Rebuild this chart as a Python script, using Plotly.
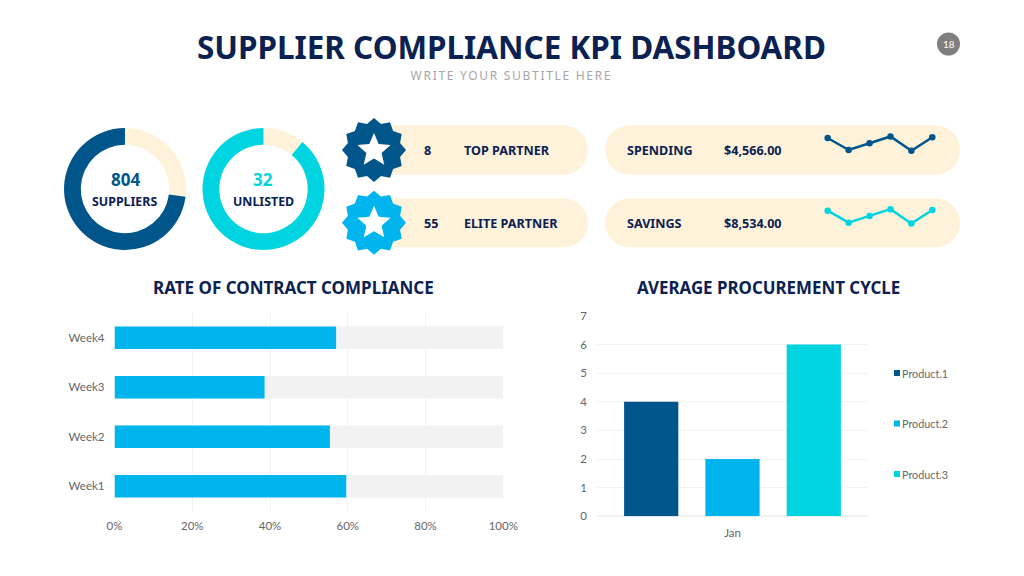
import math
import plotly.graph_objects as go

W, H = 1024, 576

# ---- data ----
weeks = ["Week1", "Week2", "Week3", "Week4"]
compliance = [59.6, 55.4, 38.6, 57.0]
track = [100, 100, 100, 100]
month = ["Jan"]
product_names = ["Product.1", "Product.2", "Product.3"]
product_values = [4, 2, 6]
suppliers_split = [27, 73]
unlisted_split = [11, 89]
spark_x = [0, 1, 2, 3, 4, 5]
spending_trend = [4.1, 2.5, 3.4, 4.3, 2.4, 4.2]
savings_trend = [4.1, 2.5, 3.4, 4.3, 2.4, 4.2]

NAVY, BLUE, CYAN = "#00568A", "#00B5EE", "#00D4E0"
CREAM = "#FEF3DA"
INK = "#0B2151"
GREY = "#666666"
GRID = "#F2F2F2"
product_colors = [NAVY, BLUE, CYAN]


def fx(p):
    return p / W


def fy(p):
    return 1 - p / H


def dom_x(a, b):
    return [fx(a), fx(b)]


def dom_y(top, bottom):
    return [fy(bottom), fy(top)]


fig = go.Figure()

# donuts
for vals, col, (cx, cy) in [
    (suppliers_split, NAVY, (125, 189)),
    (unlisted_split, CYAN, (263.5, 189)),
]:
    r = 61
    fig.add_trace(go.Pie(
        values=vals, sort=False, direction="clockwise", rotation=0, hole=0.725,
        marker=dict(colors=[CREAM, col], line=dict(width=0)),
        textinfo="none", hoverinfo="skip", showlegend=False,
        domain=dict(x=dom_x(cx - r, cx + r), y=dom_y(cy - r, cy + r)),
    ))

# compliance bars
fig.add_trace(go.Bar(y=weeks, x=track, orientation="h", width=0.45, offsetgroup="w",
                     marker=dict(color=GRID, line=dict(width=0)), xaxis="x", yaxis="y", showlegend=False))
fig.add_trace(go.Bar(y=weeks, x=compliance, orientation="h", width=0.45, offsetgroup="w",
                     marker=dict(color=BLUE, line=dict(width=0)), xaxis="x", yaxis="y", showlegend=False))

# procurement bars
for name, val, col in zip(product_names, product_values, product_colors):
    fig.add_trace(go.Bar(x=month, y=[val], name=name, offsetgroup=name,
                         marker=dict(color=col, line=dict(width=0)),
                         xaxis="x2", yaxis="y2", showlegend=False))

# sparklines
for vals, col, xa, ya in [(spending_trend, NAVY, "x3", "y3"), (savings_trend, CYAN, "x4", "y4")]:
    fig.add_trace(go.Scatter(x=spark_x, y=vals, mode="lines+markers", xaxis=xa, yaxis=ya,
                             line=dict(color=col, width=2.5), marker=dict(color=col, size=6.5),
                             cliponaxis=False, showlegend=False, hoverinfo="skip"))

shapes = []


def poly(pts, color):
    d = "M" + "L".join(f"{fx(x):.5f},{fy(y):.5f}" for x, y in pts) + "Z"
    shapes.append(dict(type="path", path=d, xref="paper", yref="paper",
                       fillcolor=color, line=dict(width=0), layer="below"))


def pill(x0, x1, y0, y1, color):
    r = (y1 - y0) / 2
    steps = 16
    pts = []
    for i in range(steps + 1):
        a = -math.pi / 2 + math.pi * i / steps
        pts.append((x1 - r + r * math.cos(a), y0 + r + r * math.sin(a)))
    for i in range(steps + 1):
        a = math.pi / 2 + math.pi * i / steps
        pts.append((x0 + r + r * math.cos(a), y0 + r + r * math.sin(a)))
    poly(pts, color)


def star_poly(cx, cy, n, ro, ri):
    return [(cx + (ro if i % 2 == 0 else ri) * math.sin(math.pi * i / n),
             cy - (ro if i % 2 == 0 else ri) * math.cos(math.pi * i / n)) for i in range(2 * n)]


pill(366, 588, 125.3, 174.7, CREAM)
pill(366, 588, 198.3, 247.3, CREAM)
pill(605, 960, 125.3, 174.7, CREAM)
pill(605, 960, 198.3, 247.3, CREAM)
for cy, col in [(150, NAVY), (222.7, BLUE)]:
    poly(star_poly(374, cy, 12, 32, 27), col)
    poly(star_poly(374, cy + 0.5, 5, 17.5, 8), "#FFFFFF")

# page badge
shapes.append(dict(type="circle", xref="paper", yref="paper", x0=fx(937), x1=fx(960),
                   y0=fy(55.5), y1=fy(32.5), fillcolor="#7F7F7F", line=dict(width=0), layer="below"))

annotations = []


def label(text, x, y, size, color=INK, bold=True, anchor="center", family="Noto Sans"):
    annotations.append(dict(
        text=f"<b>{text}</b>" if bold else text, x=fx(x), y=fy(y), xref="paper", yref="paper",
        xanchor=anchor, yanchor="middle", showarrow=False,
        font=dict(family=family, size=size, color=color)))


label("SUPPLIER COMPLIANCE KPI DASHBOARD", 511.5, 47, 31.4)
label("WRITE YOUR SUBTITLE HERE", 511, 76, 12, color="#A6A6A6", bold=False)
label("18", 948.5, 44, 10, color="#FFFFFF", bold=False, family="Lato")
label("804", 125, 179.5, 17, color=NAVY)
label("SUPPLIERS", 124.5, 201.5, 12.4)
label("32", 263, 179.5, 17, color=CYAN)
label("UNLISTED", 263.5, 201.5, 12.4)
label("8", 422, 150, 12.6, anchor="left")
label("TOP PARTNER", 462, 150, 12.6, anchor="left")
label("55", 422, 223, 12.6, anchor="left")
label("ELITE PARTNER", 462, 223, 12.6, anchor="left")
label("SPENDING", 624.5, 150, 12.6, anchor="left")
label("$4,566.00", 722, 150, 12.6, anchor="left")
label("SAVINGS", 624.5, 223, 12.6, anchor="left")
label("$8,534.00", 722, 223, 12.6, anchor="left")
label("RATE OF CONTRACT COMPLIANCE", 293, 287.5, 17)
label("AVERAGE PROCUREMENT CYCLE", 768.5, 287.5, 16.9)

# legend keys
for i, (name, col) in enumerate(zip(product_names, product_colors)):
    y = 373 + i * 50.5
    shapes.append(dict(type="rect", xref="paper", yref="paper", x0=fx(894), x1=fx(900),
                       y0=fy(y + 3), y1=fy(y - 3), fillcolor=col, line=dict(width=0)))
    label(name, 900, y, 10.8, color=GREY, bold=False, anchor="left", family="Lato")

tick = dict(family="Lato", size=11.5, color=GREY)
hidden = dict(visible=False, fixedrange=True)

fig.update_layout(
    width=W, height=H, autosize=False,
    margin=dict(l=0, r=0, t=0, b=0, pad=0, autoexpand=False),
    paper_bgcolor="#FFFFFF", plot_bgcolor="#FFFFFF",
    barmode="group", bargap=0.1, bargroupgap=0.333,
    showlegend=False, hovermode=False,
    shapes=shapes, annotations=annotations,
    xaxis=dict(domain=dom_x(114.5, 503.3), range=[0, 100], tick0=0, dtick=20,
               ticksuffix="%", tickfont=tick, gridcolor=GRID, gridwidth=1, zeroline=False,
               showline=False, ticklabelstandoff=6, anchor="y"),
    yaxis=dict(domain=dom_y(313, 511), type="category", categoryorder="array", categoryarray=weeks,
               tickfont=tick, showgrid=False, zeroline=False, showline=False,
               ticklabelstandoff=9, anchor="x"),
    xaxis2=dict(domain=dom_x(597, 868), type="category", tickfont=tick, showgrid=False,
                zeroline=False, showline=False, ticklabelstandoff=8, anchor="y2"),
    yaxis2=dict(domain=dom_y(316, 516.3), range=[0, 7], dtick=1, tickfont=tick, gridcolor=GRID,
                zeroline=True, zerolinecolor=GRID, showline=False, ticklabelstandoff=9, anchor="x2"),
    xaxis3=dict(domain=dom_x(827.7, 932.3), range=[0, 5], anchor="y3", **hidden),
    yaxis3=dict(domain=dom_y(128.75, 168.75), range=[0, 5.33], anchor="x3", **hidden),
    xaxis4=dict(domain=dom_x(827.7, 932.3), range=[0, 5], anchor="y4", **hidden),
    yaxis4=dict(domain=dom_y(201.45, 241.45), range=[0, 5.33], anchor="x4", **hidden),
)

post = """
document.documentElement.style.margin='0';
document.body.style.margin='0';
document.body.style.overflow='hidden';
document.querySelectorAll('.annotation-text').forEach(function(t){
  if(t.textContent==='WRITE YOUR SUBTITLE HERE'){t.style.letterSpacing='1.7px';}
});
"""
fig.write_html("out.html", post_script=post, config=dict(displayModeBar=False, staticPlot=True))
